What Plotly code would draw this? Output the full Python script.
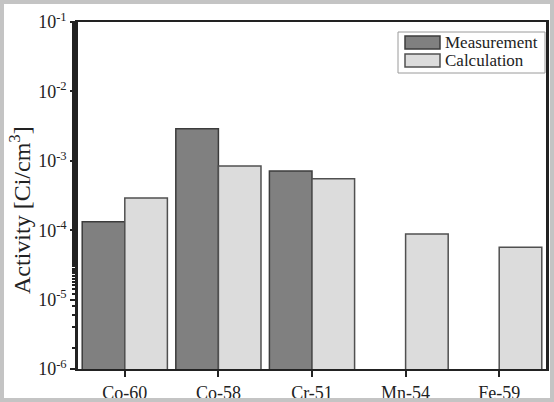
import plotly.graph_objects as go

categories = ["Co-60", "Co-58", "Cr-51", "Mn-54", "Fe-59"]
measurement = [1.32e-4, 2.9e-3, 7.1e-4, None, None]
calculation = [2.9e-4, 8.4e-4, 5.5e-4, 8.8e-5, 5.7e-5]
series_names = ["Measurement", "Calculation"]
tick_vals = [1e-6, 1e-5, 1e-4, 1e-3, 1e-2, 1e-1]
tick_text = ["10<sup>-6</sup>", "10<sup>-5</sup>", "10<sup>-4</sup>", "10<sup>-3</sup>", "10<sup>-2</sup>", "10<sup>-1</sup>"]
y_title = "Activity [Ci/cm<sup>3</sup>]"

font = "Liberation Serif, Times New Roman, serif"
fill_colors = ["#808080", "#dcdcdc"]
edge_colors = ["#3c3c3c", "#505050"]

W, H = 554, 402
L, R, T, B = 78, 8, 22, 33
pw, ph = W - L - R, H - T - B

def px(x):
    return (x - L) / pw

def py(y):
    return (H - B - y) / ph

fig = go.Figure()
for name, vals, fc, ec in zip(series_names, [measurement, calculation], fill_colors, edge_colors):
    fig.add_bar(x=categories, y=vals, name=name, showlegend=False,
                marker=dict(color=fc, line=dict(color=ec, width=1.5)))

shapes = [
    dict(type="rect", xref="paper", yref="paper", x0=px(0), x1=px(W), y0=py(H), y1=py(0),
         line=dict(color="#c4c4c4", width=8), layer="above"),
    dict(type="rect", xref="paper", yref="paper", x0=px(398), x1=px(545), y0=py(73), y1=py(32),
         line=dict(color="#9a9a9a", width=1), fillcolor="white", layer="above"),
]
annotations = []
for i, (name, fc, ec) in enumerate(zip(series_names, fill_colors, edge_colors)):
    top = 36 + i * 18
    shapes.append(dict(type="rect", xref="paper", yref="paper", x0=px(405), x1=px(440),
                       y0=py(top + 13), y1=py(top), fillcolor=fc,
                       line=dict(color=ec, width=1.5), layer="above"))
    annotations.append(dict(xref="paper", yref="paper", x=px(443), y=py(top + 6.5),
                            xanchor="left", yanchor="middle", showarrow=False, text=name,
                            font=dict(family=font, size=17, color="#222")))
annotations.append(dict(xref="paper", yref="paper", x=px(20), y=py(210), textangle=-90,
                        xanchor="center", yanchor="middle", showarrow=False, text=y_title,
                        font=dict(family=font, size=24, color="#222")))

fig.update_layout(
    width=W, height=H,
    margin=dict(l=L, r=R, t=T, b=B, autoexpand=False),
    paper_bgcolor="white", plot_bgcolor="white",
    barmode="group", bargap=0.09, bargroupgap=0,
    font=dict(family=font, color="#222", size=17),
    showlegend=False,
    shapes=shapes, annotations=annotations,
)
fig.update_xaxes(showline=True, linecolor="#222", linewidth=2, mirror=True, automargin=False,
                 ticks="outside", ticklen=6, tickwidth=1.5, tickcolor="#222",
                 tickfont=dict(family=font, size=18, color="#222"))
fig.update_yaxes(type="log", range=[-6, -1], showline=True, linecolor="#222", linewidth=2.5,
                 mirror=True, automargin=False, ticks="outside", ticklen=5, tickwidth=2, tickcolor="#222",
                 tickvals=tick_vals, ticktext=tick_text, showgrid=False,
                 minor=dict(ticks="outside", ticklen=3, tickwidth=1.5, tickcolor="#222", showgrid=False),
                 tickfont=dict(family=font, size=18, color="#222"))

fig.write_html("out.html", config={"displayModeBar": False},
               post_script="document.body.style.margin='0';document.body.style.padding='0';")
